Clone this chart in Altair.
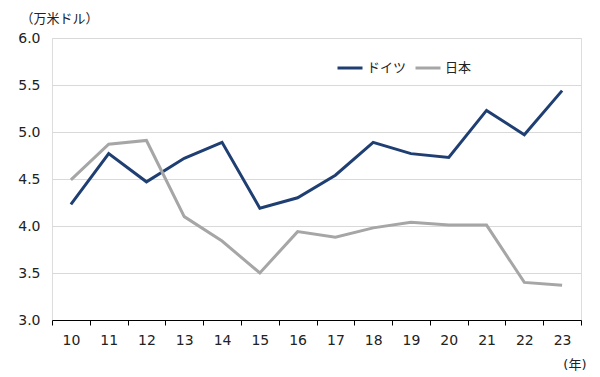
import altair as alt
import pandas as pd

years = ["10", "11", "12", "13", "14", "15", "16", "17", "18", "19", "20", "21", "22", "23"]
germany = [4.23, 4.77, 4.47, 4.72, 4.89, 4.19, 4.30, 4.54, 4.89, 4.77, 4.73, 5.23, 4.97, 5.44]
japan = [4.49, 4.87, 4.91, 4.10, 3.84, 3.50, 3.94, 3.88, 3.98, 4.04, 4.01, 4.01, 3.40, 3.37]
series = ["ドイツ", "日本"]
colors = ["#1F3F73", "#A6A6A6"]

rows = []
for y, g, j in zip(years, germany, japan):
    rows.append({"year": y, "country": series[0], "value": g})
    rows.append({"year": y, "country": series[1], "value": j})
df = pd.DataFrame(rows)

FONT = "DejaVu Sans, Noto Sans CJK JP"

chart = alt.Chart(df).mark_line(strokeWidth=3).encode(
    x=alt.X("year:O", sort=years,
            scale=alt.Scale(paddingInner=0, paddingOuter=0),
            axis=alt.Axis(title="(年)", titleAngle=0, titleX=534, titleY=44,
                          titleAlign="right", titleBaseline="middle",
                          titleFontWeight="normal", titleFontSize=13,
                          labelAngle=0, labelPadding=8, labelFontSize=14,
                          tickBand="extent", tickSize=5, tickColor="#000000",
                          domainColor="#000000", domainWidth=1.2,
                          labelColor="#222222", titleColor="#222222", grid=False)),
    y=alt.Y("value:Q", scale=alt.Scale(domain=[3.0, 6.0], nice=False, zero=False),
            axis=alt.Axis(values=[3.0, 3.5, 4.0, 4.5, 5.0, 5.5, 6.0], format=".1f",
                          title="（万米ドル）", titleAngle=0, titleX=-32, titleY=-20,
                          titleAlign="left", titleBaseline="middle",
                          titleFontWeight="normal", titleFontSize=13,
                          labelFontSize=14, labelPadding=12, labelColor="#222222",
                          titleColor="#222222",
                          domain=False, ticks=False, grid=True,
                          gridColor="#D9D9D9", gridWidth=1)),
    color=alt.Color("country:N",
                    scale=alt.Scale(domain=series, range=colors),
                    legend=alt.Legend(title=None, orient="none", legendX=284, legendY=16,
                                      direction="horizontal", symbolType="stroke",
                                      symbolSize=625, symbolStrokeWidth=3,
                                      labelFontSize=13, labelColor="#222222",
                                      columnPadding=2, labelOffset=3)),
).properties(
    width=529, height=282,
    autosize=alt.AutoSizeParams(type="none"),
    padding={"left": 44, "top": 30, "right": 11, "bottom": 57},
).configure_view(stroke=None).configure(font=FONT)

chart.save("out.html", embed_options={"renderer": "svg", "actions": False})
